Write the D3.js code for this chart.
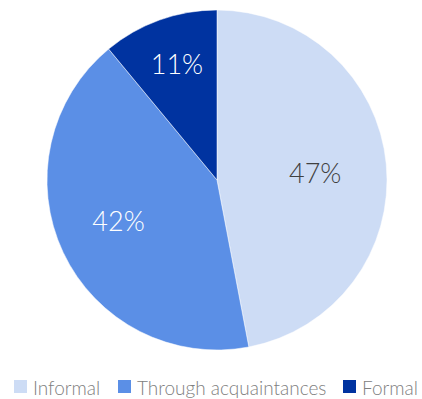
<!DOCTYPE html>
<html>
<head>
<meta charset="utf-8">
<script src="https://cdn.jsdelivr.net/npm/d3@7"></script>
<style>
  html, body { margin: 0; padding: 0; background: #fff; }
  svg { display: block; }
</style>
</head>
<body>
<svg id="chart" width="422" height="399"></svg>
<script>
// Job search channels, share of respondents (%)
const categories = ["Informal", "Through acquaintances", "Formal"];
const values = [47, 42, 11];
const sliceColors = ["#cddcf5", "#5b8fe6", "#0033a0"];
const labelColors = ["#404040", "#ffffff", "#ffffff"];

const svg = d3.select("#chart");
const cx = 217, cy = 180, radius = 170;

const pie = d3.pie().sort(null).value(d => d.value);
const arcs = pie(categories.map((c, i) => ({ name: c, value: values[i], i })));
const arc = d3.arc().innerRadius(0).outerRadius(radius);

const g = svg.append("g").attr("transform", `translate(${cx},${cy})`);

g.selectAll("path.slice")
  .data(arcs)
  .join("path")
  .attr("class", "slice")
  .attr("d", arc)
  .attr("fill", d => sliceColors[d.data.i])
  .attr("stroke", "#ffffff")
  .attr("stroke-width", 0.5);

// label placement: fraction of the radius along the bisector, plus a small nudge
const labelRadius = [0.58, 0.64, 0.73];
const labelNudge = [[0, 2], [0, -6], [2, 0]];
g.selectAll("text.value")
  .data(arcs)
  .join("text")
  .attr("class", "value")
  .attr("transform", d => {
    const a = (d.startAngle + d.endAngle) / 2;
    const r = radius * labelRadius[d.data.i];
    const [nx, ny] = labelNudge[d.data.i];
    return `translate(${Math.sin(a) * r + nx},${-Math.cos(a) * r + ny})`;
  })
  .attr("text-anchor", "middle")
  .attr("dominant-baseline", "central")
  .attr("font-family", "Lato, 'Open Sans', sans-serif")
  .attr("font-weight", 300)
  .attr("font-size", 27)
  .attr("fill", d => labelColors[d.data.i])
  .text(d => d.data.value + "%");

// Legend along the bottom
const legend = svg.append("g").attr("transform", "translate(0,387)");
const legendX = [14, 118, 343];
const item = legend.selectAll("g.item")
  .data(categories)
  .join("g")
  .attr("class", "item")
  .attr("transform", (d, i) => `translate(${legendX[i]},0)`);
item.append("rect")
  .attr("x", 0).attr("y", -7)
  .attr("width", 13).attr("height", 13)
  .attr("fill", (d, i) => sliceColors[i]);
item.append("text")
  .attr("x", 19)
  .attr("y", 0)
  .attr("dominant-baseline", "central")
  .attr("font-family", "Lato, 'Open Sans', sans-serif")
  .attr("font-weight", 300)
  .attr("font-size", 19)
  .attr("fill", "#808080")
  .text(d => d);
</script>
</body>
</html>
